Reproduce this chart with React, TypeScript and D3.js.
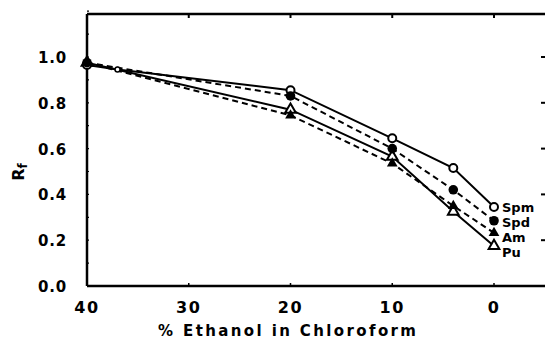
import React from "react";
import * as d3 from "d3";

const W = 545;
const H = 340;

const xTicks = [40, 30, 20, 10, 0];
const yTicks = [0, 0.2, 0.4, 0.6, 0.8, 1.0];

const spmX = [40, 37, 20, 10, 4, 0];
const spmY = [0.965, 0.945, 0.855, 0.645, 0.515, 0.345];
const spdX = [40, 20, 10, 4, 0];
const spdY = [0.975, 0.83, 0.6, 0.42, 0.285];
const puX = [40, 20, 10, 4, 0];
const puY = [0.975, 0.77, 0.565, 0.325, 0.175];
const amX = [40, 20, 10, 4, 0];
const amY = [0.975, 0.745, 0.535, 0.35, 0.232];

const seriesNames = ["Spm", "Spd", "Am", "Pu"];

type Series = { name: string; xs: number[]; ys: number[]; dashed: boolean; marker: string };

const series: Series[] = [
  { name: "Spm", xs: spmX, ys: spmY, dashed: false, marker: "openCircle" },
  { name: "Spd", xs: spdX, ys: spdY, dashed: true, marker: "filledCircle" },
  { name: "Am", xs: amX, ys: amY, dashed: true, marker: "filledTriangle" },
  { name: "Pu", xs: puX, ys: puY, dashed: false, marker: "openTriangle" },
];

const drawOrder = ["Pu", "Am", "Spm", "Spd"];
const legendY = [207, 222, 237, 252];

export default function App() {
  const x = d3.scaleLinear().domain([40, 0]).range([87, 494]);
  const y = d3.scaleLinear().domain([0, 1]).range([286, 57]);
  const line = d3
    .line<[number, number]>()
    .x((d) => x(d[0]))
    .y((d) => y(d[1]));
  const tri = d3.symbol().type(d3.symbolTriangle).size(50)();
  const font = "'DejaVu Sans', 'Liberation Sans', sans-serif";

  const marker = (m: string, cx: number, cy: number, key: string, small: boolean) => {
    if (m === "openCircle")
      return <circle key={key} cx={cx} cy={cy} r={small ? 2.5 : 4} fill="#fff" stroke="#000" strokeWidth={small ? 1.5 : 2} />;
    if (m === "filledCircle") return <circle key={key} cx={cx} cy={cy} r={4.8} fill="#000" />;
    if (m === "filledTriangle")
      return <path key={key} d={tri || ""} transform={`translate(${cx},${cy})`} fill="#000" />;
    return (
      <path key={key} d={tri || ""} transform={`translate(${cx},${cy})`} fill="#fff" stroke="#000" strokeWidth={2} />
    );
  };

  const minorY = d3.range(0, 1.21, 0.1);

  return (
    <div style={{ position: "fixed", left: 0, top: 0 }}>
      <svg width={W} height={H} style={{ display: "block", background: "#fff" }}>
        {/* frame */}
        <line x1={87} x2={W} y1={14} y2={14} stroke="#000" strokeWidth={2.5} />
        <line x1={87} x2={W} y1={286} y2={286} stroke="#000" strokeWidth={2.5} />
        <line x1={87} x2={87} y1={14} y2={286} stroke="#000" strokeWidth={2.5} />
        {/* left ticks */}
        {minorY.map((v, i) => (
          <line key={"ly" + i} x1={87} x2={89} y1={y(v)} y2={y(v)} stroke="#000" strokeWidth={1.2} />
        ))}
        {/* right ticks */}
        {yTicks.map((v, i) => (
          <line key={"ry" + i} x1={W - 4} x2={W} y1={y(v)} y2={y(v)} stroke="#000" strokeWidth={2} />
        ))}
        {/* bottom & top ticks */}
        {xTicks.map((v, i) => (
          <g key={"xt" + i}>
            <line x1={x(v)} x2={x(v)} y1={286} y2={283} stroke="#000" strokeWidth={1.5} />
            <line x1={x(v)} x2={x(v)} y1={14} y2={18} stroke="#000" strokeWidth={2} />
          </g>
        ))}
        {/* tick labels */}
        {xTicks.map((v, i) => (
          <text key={"xl" + i} x={x(v)} y={313} textAnchor="middle" fontFamily={font} fontWeight="bold" fontSize={16} letterSpacing={1.5}>
            {String(v)}
          </text>
        ))}
        {yTicks.map((v, i) => (
          <text key={"yl" + i} x={67} y={y(v) + 6} textAnchor="end" fontFamily={font} fontWeight="bold" fontSize={15} letterSpacing={0.8}>
            {v.toFixed(1)}
          </text>
        ))}
        {/* axis titles */}
        <text x={287} y={336} textAnchor="middle" fontFamily={font} fontWeight="bold" fontSize={15} textLength={258} lengthAdjust="spacing">
          % Ethanol  in  Chloroform
        </text>
        <text transform="translate(24,172) rotate(-90)" textAnchor="middle" fontFamily={font} fontWeight="bold" fontSize={16}>
          R<tspan fontSize={12} dy={3}>f</tspan>
        </text>
        {/* lines */}
        {series.map((s) => (
          <path
            key={"l" + s.name}
            d={line(s.xs.map((v, i) => [v, s.ys[i]] as [number, number])) || ""}
            fill="none"
            stroke="#000"
            strokeWidth={2}
            strokeDasharray={s.dashed ? "6,4" : undefined}
          />
        ))}
        {/* markers */}
        {drawOrder.map((n) => {
          const s = series.find((q) => q.name === n)!;
          return s.xs.map((v, i) => marker(s.marker, x(v), y(s.ys[i]), s.name + i, v === 37));
        })}
        {/* series labels */}
        {seriesNames.map((n, i) => (
          <text key={"sn" + n} x={502} y={legendY[i] + 5} fontFamily={font} fontWeight="bold" fontSize={13}>
            {n}
          </text>
        ))}
      </svg>
    </div>
  );
}
